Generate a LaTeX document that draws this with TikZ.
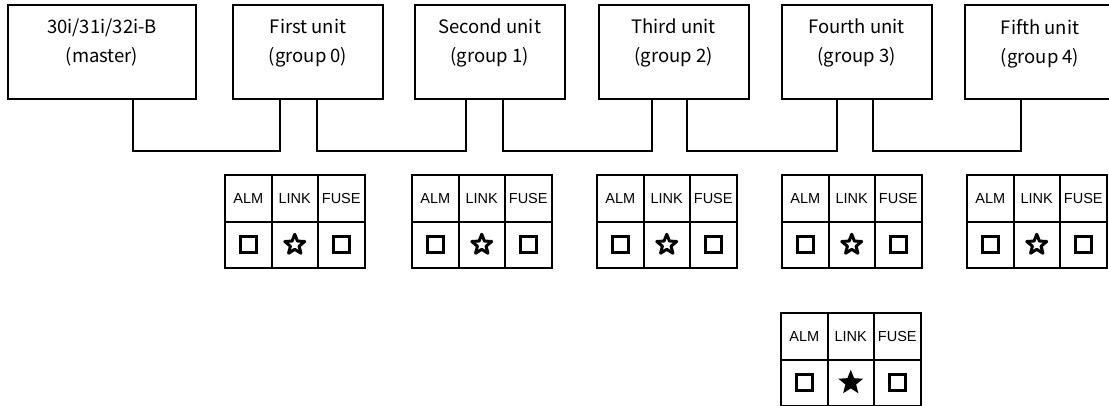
\documentclass[tikz,border=0pt]{standalone}
\usepackage{fontspec}
\setmainfont{Liberation Sans}
\newfontfamily\gothicfont{Noto Sans CJK JP}
\usetikzlibrary{shapes.geometric, positioning, calc}

\begin{document}
\begin{tikzpicture}[
    x=1pt, y=-1pt,
    unit/.style={rectangle, draw, line width=2pt, minimum width=150pt, minimum height=94pt, inner sep=0pt},
    unitlbl/.style={align=center, inner sep=0pt, font=\gothicfont\fontsize{18.5}{29}\selectfont},
    cell/.style={rectangle, draw, line width=2pt, minimum width=46.5pt, minimum height=46.5pt, inner sep=0pt, font=\fontsize{14.5}{16}\selectfont},
    ledoff/.style={rectangle, draw, line width=3.2pt, minimum size=16pt, inner sep=0pt},
    linkoff/.style={star, star points=5, star point ratio=2.3, draw, line width=3pt, line join=round, fill=white, minimum size=21pt, inner sep=0pt},
    linkon/.style={star, star points=5, star point ratio=2.3, fill=black, minimum size=26pt, inner sep=0pt},
    link/.style={line width=2pt}
]
\useasboundingbox (0,0) rectangle (1109,405);
\clip (0,0) rectangle (1109,405);

\node[unit, minimum width=188pt] (u0) at (102,52) {};
\node[unit] (u1) at (308,52) {};
\node[unit] (u2) at (489.5,52) {};
\node[unit] (u3) at (673.5,52) {};
\node[unit] (u4) at (856.5,52) {};
\node[unit] (u5) at (1040,52) {};

\node[unitlbl, below=15pt of u0.north] (u0l) {30i/31i/32i-B\\(master)};
\node[unitlbl, below=15pt of u1.north] (u1l) {First unit\\(group 0)};
\node[unitlbl, below=15pt of u2.north] (u2l) {Second unit\\(group 1)};
\node[unitlbl, below=15pt of u3.north] (u3l) {Third unit\\(group 2)};
\node[unitlbl, below=15pt of u4.north] (u4l) {Fourth unit\\(group 3)};
\node[unitlbl, below=15pt of u5.north] (u5l) {Fifth unit\\(group 4)};

\draw[link] ($(u0.south)+(31,0)$) -- ++(0,51) -| ($(u1.south)+(-28,0)$);
\draw[link] ($(u1.south)+(9,0)$) -- ++(0,51) -| ($(u2.south)+(-23.5,0)$);
\draw[link] ($(u2.south)+(13.5,0)$) -- ++(0,51) -| ($(u3.south)+(-21.5,0)$);
\draw[link] ($(u3.south)+(13.5,0)$) -- ++(0,51) -| ($(u4.south)+(-19.5,0)$);
\draw[link] ($(u4.south)+(16.5,0)$) -- ++(0,51) -| ($(u5.south)+(-19,0)$);

\foreach \px/\py/\nm/\lk in {225/175/p1/linkoff, 412/175/p2/linkoff, 597/175/p3/linkoff,
                              782/175/p4/linkoff, 967/175/p5/linkoff, 781/313/p6/linkon}{
    \node[cell] (\nm-alm) at (\px+23.25,\py+23.25) {ALM};
    \node[cell] (\nm-link) at (\px+69.75,\py+23.25) {LINK};
    \node[cell] (\nm-fuse) at (\px+116.25,\py+23.25) {FUSE};
    \node[cell] (\nm-a) at (\px+23.25,\py+69.75) {};
    \node[cell] (\nm-l) at (\px+69.75,\py+69.75) {};
    \node[cell] (\nm-f) at (\px+116.25,\py+69.75) {};
    \node[ledoff] (\nm-ia) at (\nm-a) {};
    \node[\lk] (\nm-il) at (\nm-l) {};
    \node[ledoff] (\nm-if) at (\nm-f) {};
}

\end{tikzpicture}
\end{document}
